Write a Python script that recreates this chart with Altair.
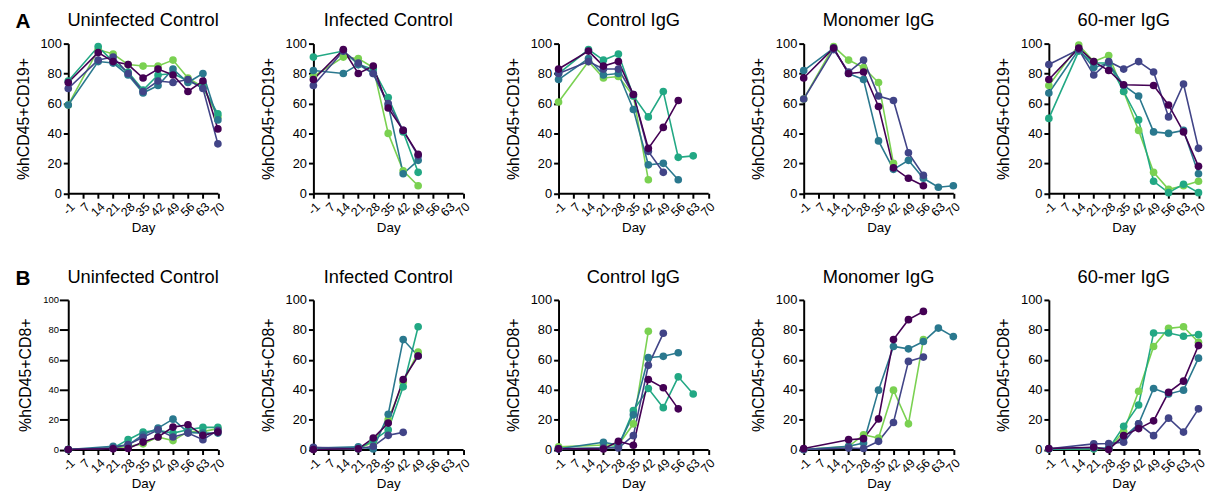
import altair as alt
import pandas as pd

# ---------------- data ----------------
days = ["-1", "7", "14", "21", "28", "35", "42", "49", "56", "63", "70"]
days_a = ["-1", "14", "21", "28", "35", "42", "49", "56", "63", "70"]
days_b = ["-1", "21", "28", "35", "42", "49", "56", "63", "70"]
groups = ["Uninfected Control", "Infected Control", "Control IgG", "Monomer IgG", "60-mer IgG"]
series_order = ["L", "G", "T", "I", "P"]
series_colors = ["#7ad151", "#22a884", "#2a788e", "#414487", "#440154"]
N = None

# Row A: %hCD45+CD19+
a_uninfected = {
    "P": [74, 94, 88, 86, 77, 83, 79, 68, 75, 43],
    "I": [70, 89, 91, 80, 68, 75, 74, 76, 70, 33],
    "T": [59, 88, 87, 79, 67, 72, 83, 74, 80, 49],
    "G": [75, 98, 88, 81, 69, 79, 80, 75, 71, 53],
    "L": [59, 96, 93, 86, 85, 85, 89, 77, 71, 51],
}
a_infected = {
    "P": [76, 96, 80, 85, 57, 42, 26, N, N, N],
    "I": [72, 95, 87, 80, 60, 42, 25, N, N, N],
    "T": [82, 80, 86, 80, 59, 13, 22, N, N, N],
    "G": [91, 95, 86, 83, 64, 41, 14, N, N, N],
    "L": [78, 91, 90, 84, 40, 15, 5, N, N, N],
}
a_control_igg = {
    "P": [83, 95, 85, 88, 66, 30, 44, 62, N, N],
    "I": [80, 88, 83, 83, 66, 28, 14, N, N, N],
    "T": [76, 90, 79, 80, 56, 19, 20, 9, N, N],
    "G": [80, 96, 89, 93, 65, 51, 68, 24, 25, N],
    "L": [61, 88, 77, 78, 65, 9, N, N, N, N],
}
a_monomer = {
    "P": [77, 97, 80, 81, 58, 17, 10, 5, N, N],
    "I": [63, 96, 81, 89, 65, 62, 27, 12, N, N],
    "T": [82, 97, 80, 76, 35, 16, 22, 10, 4, 5],
    "L": [63, 98, 89, 84, 74, 20, N, N, N, N],
}
a_60mer = {
    "P": [76, 97, 88, 82, 72.5, N, 72, 59, 41, 18],
    "I": [86, 96, 79, 88, 83, 88, 81, 51, 73, 30],
    "T": [67, 96, 84, 87, 72, 65, 41, 40, 42, 13],
    "G": [50, 95, 87, 87, 68, 49, 8, 0.4, 6, 0.4],
    "L": [72, 99, 88, 92, 68, 42, 14, 2.6, 5, 8],
}

# Row B: %hCD45+CD8+
b_uninfected = {
    "P": [0, 0.5, 0.7, 5, 8.4, 15, 16.6, 9.5, 11.7],
    "I": [0, 1, 3.3, 8.2, 13.2, 8.4, 11, 6.6, 12.8],
    "T": [0, 2.2, 3, 9.9, 14.3, 20.3, 11.5, 11, 11],
    "G": [0, 1, 6.6, 11.7, 12.8, 11, 13.2, 14.8, 14.8],
    "L": [0, 1, 2, 3.8, 8.4, 6, 12, 12, 14],
}
b_infected = {
    "P": [0, 0.5, 7.7, 17.7, 46.8, 62.5, N, N, N],
    "I": [1.5, 0.5, 2.2, 9.5, 11.5, N, N, N, N],
    "T": [1, 1.8, 0.4, 23.6, 73.5, 62.5, N, N, N],
    "G": [0.5, 0.5, 6, 13.2, 41.9, 82.1, N, N, N],
    "L": [0.5, 0.5, 5, 20, 45, 65.1, N, N, N],
}
b_control_igg = {
    "P": [0.5, 0.4, 5.5, 2.9, 46.8, 41.3, 27.2, N, N],
    "I": [0.5, 1, 1.1, 9.3, 56.3, 77.7, N, N, N],
    "T": [0.5, 4.9, 3, 23.2, 61.4, 62.3, 64.7, N, N],
    "G": [0.5, 1, 2, 26, 40.8, 28, 48.6, 37.1, N],
    "L": [1.8, 3, 3, 17.2, 79, N, N, N, N],
}
b_monomer = {
    "P": [0.7, 6.6, 7.3, 20.5, 73.5, 86.8, 92.3, N, N],
    "I": [0, 1, 0.7, 5.5, 18.1, 58.9, 61.8, N, N],
    "T": [0, 2.2, 4.4, 39.7, 68.9, 67.3, 72.2, 81.2, 75.5],
    "L": [0, 2, 9.9, 7.7, 39.7, 17.2, 73.5, N, N],
}
b_60mer = {
    "P": [0.7, 1.5, 0, 9.3, 14, 19.2, 38.2, 45.7, 69.5],
    "I": [0.5, 3.8, 4, 4.9, 17.2, 9.3, 21, 11.7, 27.2],
    "T": [0.5, 1, 1, 8, 17.2, 40.8, 37.1, 39.7, 61.1],
    "G": [0.3, 0.5, 0.5, 15.5, 29.8, 77.9, 77.9, 75.7, 76.8],
    "L": [0.3, 0.5, 0.5, 12, 39, 68.9, 81, 82.1, 71.7],
}

row_a = [a_uninfected, a_infected, a_control_igg, a_monomer, a_60mer]
row_b = [b_uninfected, b_infected, b_control_igg, b_monomer, b_60mer]

FONT = "Liberation Sans"
W, H = 151.5, 151.5


def to_df(panel, day_list):
    rows = []
    for s in series_order:
        if s not in panel:
            continue
        for d, v in zip(day_list, panel[s]):
            if v is None:
                continue
            rows.append({"day": d, "idx": days.index(d), "series": s, "value": v})
    return pd.DataFrame(rows)


def make_panel(panel, day_list, title, ytitle, letter=None, small_y=False):
    df = to_df(panel, day_list)
    x = alt.X("day:O", sort=days,
              scale=alt.Scale(domain=days, padding=0),
              axis=alt.Axis(title="Day", labelAngle=-45, labelFontSize=12.5,
                            titleFontSize=13.5, titlePadding=2, labelPadding=2))
    y = alt.Y("value:Q", scale=alt.Scale(domain=[0, 100], nice=False),
              axis=alt.Axis(values=[0, 20, 40, 60, 80, 100], title=ytitle,
                            titleFontSize=16, titlePadding=9,
                            labelFontSize=9.5 if small_y else 13,
                            tickSize=9 if small_y else 5,
                            labelPadding=1 if small_y else 2))
    color = alt.Color("series:N", scale=alt.Scale(domain=series_order, range=series_colors), legend=None)
    base = alt.Chart(df).encode(x=x, y=y, color=color, order=alt.Order("idx:Q"))
    lines = base.mark_line(strokeWidth=1.6)
    pts = alt.Chart(df).mark_circle(size=60, opacity=1).encode(x=x, y=y, color=color)
    ttl = alt.Chart(pd.DataFrame({"t": [title]})).mark_text(
        font=FONT, fontSize=18.5, align="center", baseline="alphabetic", color="black"
    ).encode(text="t:N", x=alt.value(W / 2), y=alt.value(-17.5))
    layers = [lines, pts, ttl]
    if letter:
        lt = alt.Chart(pd.DataFrame({"t": [letter]})).mark_text(
            font=FONT, fontSize=21, fontWeight="bold", align="left", baseline="alphabetic", color="black"
        ).encode(text="t:N", x=alt.value(-53.5), y=alt.value(-15.5))
        layers.append(lt)
    return alt.layer(*layers).properties(width=W, height=H)


panels = []
for i, p in enumerate(row_a):
    panels.append(make_panel(p, days_a, groups[i], "%hCD45+CD19+", letter="A" if i == 0 else None))
for i, p in enumerate(row_b):
    panels.append(make_panel(p, days_b, groups[i], "%hCD45+CD8+", letter="B" if i == 0 else None,
                             small_y=(i == 0)))

chart = alt.concat(*panels, columns=5, spacing={"row": 107.5, "column": 96.2}, bounds="flush").properties(
    padding={"left": 7, "top": 0, "right": 5, "bottom": 5}
).configure_view(stroke=None).configure_axis(
    grid=False, domainColor="black", domainWidth=2, tickColor="black", tickWidth=2,
    labelColor="black", titleColor="black", labelFont=FONT, titleFont=FONT,
    titleFontWeight="normal"
)

chart.save("out.html", embed_options={"renderer": "svg", "actions": False})
